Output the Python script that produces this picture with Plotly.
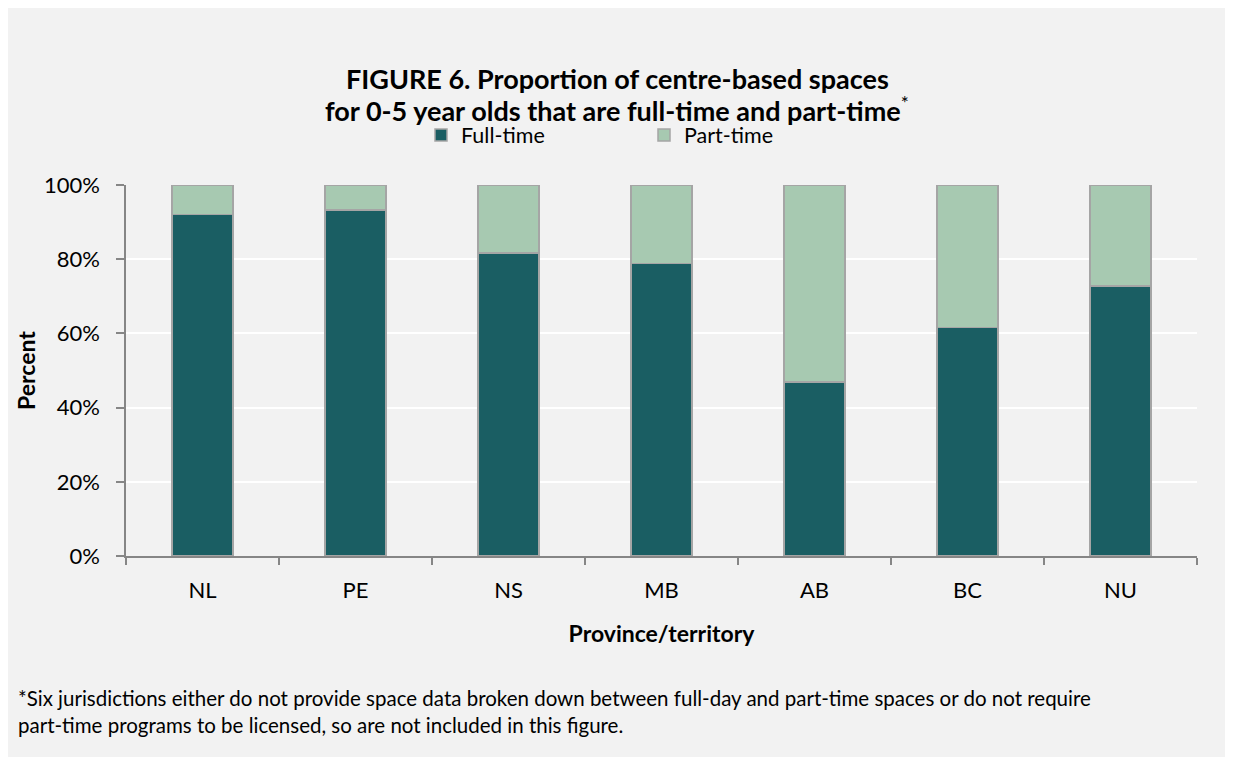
import plotly.graph_objects as go

# data
provinces = ['NL', 'PE', 'NS', 'MB', 'AB', 'BC', 'NU']
full_time = [92.1, 93.2, 81.7, 78.8, 46.9, 61.6, 72.8]
part_time = [100 - v for v in full_time]
y_ticks = [0, 20, 40, 60, 80, 100]
y_tick_labels = ['0%', '20%', '40%', '60%', '80%', '100%']

FONT = 'Lato'
BG = '#f2f2f2'
W, H = 1233, 757
L, R, T, B = 118, 44, 177, 209

def px_x(x):
    return (x - L) / (W - L - R)

def px_y(y):
    return (H - B - y) / (H - T - B)

fig = go.Figure()
fig.add_trace(go.Bar(
    x=provinces, y=full_time, name='Full-time',
    marker=dict(color='#1a5e63', line=dict(color='#a5a5a5', width=1.5)),
))
fig.add_trace(go.Bar(
    x=provinces, y=part_time, name='Part-time',
    marker=dict(color='#a7c9b1', line=dict(color='#a5a5a5', width=1.5)),
))

fig.update_layout(
    barmode='stack',
    bargap=0.6,
    width=W, height=H,
    margin=dict(l=L, r=R, t=T, b=B),
    paper_bgcolor=BG,
    plot_bgcolor=BG,
    font=dict(family=FONT, size=22, color='black'),
    showlegend=True,
    legend=dict(
        orientation='h', x=px_x(413), xanchor='left',
        y=px_y(127), yanchor='middle',
        font=dict(size=21.5), traceorder='normal',
        bgcolor='rgba(0,0,0,0)', entrywidth=178,
    ),
    xaxis=dict(
        showline=True, linecolor='#868686', linewidth=1.5,
        ticks='outside', tickson='boundaries', ticklen=7,
        tickcolor='#868686', tickwidth=1.5,
        ticklabelstandoff=14,
        showgrid=False,
        title=dict(text='<b>Province/territory</b>', font=dict(size=23), standoff=24),
    ),
    yaxis=dict(
        range=[0, 100], tickvals=y_ticks, ticktext=y_tick_labels,
        showline=True, linecolor='#868686', linewidth=1.5,
        ticks='outside', ticklen=8, tickcolor='#868686', tickwidth=1.5,
        ticklabelstandoff=12,
        gridcolor='white', gridwidth=1.5, zeroline=False,
        title=dict(text='<b>Percent</b>', font=dict(size=23), standoff=2),
    ),
    annotations=[
        dict(
            text='<b>FIGURE 6. Proportion of centre-based spaces</b>',
            xref='paper', yref='paper', x=px_x(609), y=px_y(71),
            xanchor='center', yanchor='middle', showarrow=False,
            font=dict(size=27, family=FONT),
        ),
        dict(
            text='<b>for 0-5 year olds that are full-time and part-time</b><sup>*</sup>',
            xref='paper', yref='paper', x=px_x(609), y=px_y(101),
            xanchor='center', yanchor='middle', showarrow=False,
            font=dict(size=27, family=FONT),
        ),
        dict(
            text='*Six jurisdictions either do not provide space data broken down between full-day and part-time spaces or do not require<br>'
                 'part-time programs to be licensed, so are not included in this figure.',
            xref='paper', yref='paper', x=px_x(8), y=px_y(703),
            xanchor='left', yanchor='middle', showarrow=False,
            font=dict(size=20.5, family=FONT), align='left',
        ),
    ],
)

fig.write_html('out.html')
